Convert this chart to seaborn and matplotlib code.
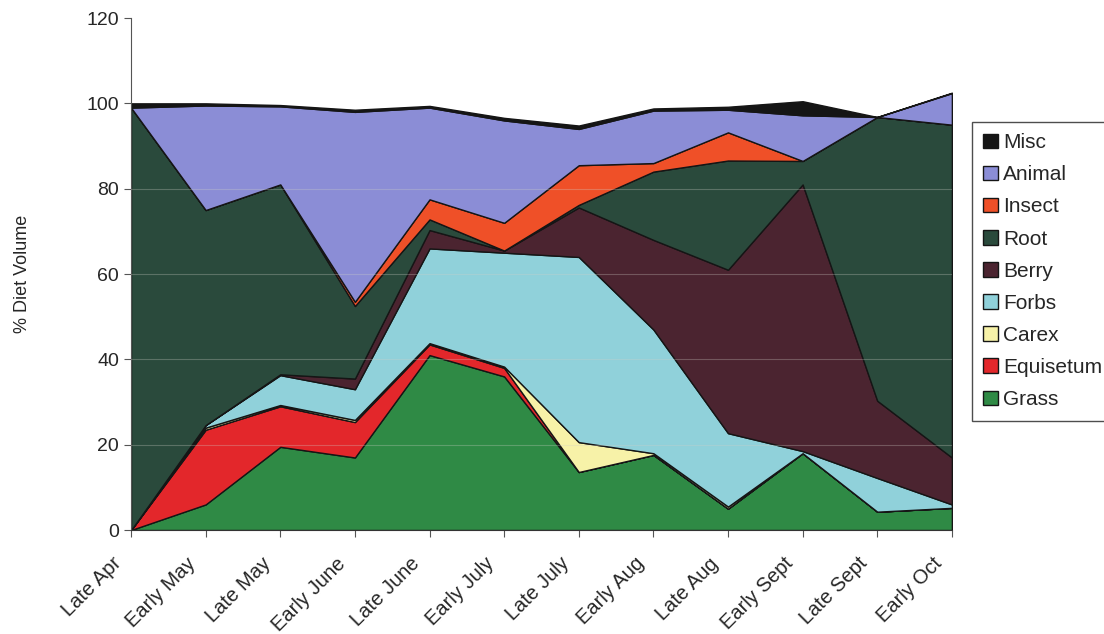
import matplotlib
matplotlib.use("Agg")
import matplotlib.pyplot as plt
import matplotlib.transforms as mtransforms
import seaborn as sns
import numpy as np

# sampling periods (x axis)
periods = ["Late Apr", "Early May", "Late May", "Early June", "Late June", "Early July",
           "Late July", "Early Aug", "Late Aug", "Early Sept", "Late Sept", "Early Oct"]

# % diet volume per food class
grass     = [0.0, 6.0, 19.5, 17.0, 41.0, 36.0, 13.6, 17.6, 5.0, 18.0, 4.3, 5.2]
equisetum = [0.0, 17.5, 9.5, 8.3, 2.5, 2.0, 0.0, 0.0, 0.0, 0.0, 0.0, 0.0]
carex     = [0.0, 0.5, 0.3, 0.5, 0.3, 0.3, 7.0, 0.4, 0.5, 0.0, 0.0, 0.0]
forbs     = [0.0, 0.6, 7.0, 7.2, 22.2, 26.7, 43.4, 29.0, 17.2, 0.5, 7.9, 0.8]
berry     = [0.0, 0.0, 0.2, 2.5, 4.3, 0.5, 11.6, 21.0, 38.3, 62.5, 18.1, 11.0]
root      = [99.0, 50.4, 44.5, 17.0, 2.5, 0.0, 0.6, 16.0, 25.6, 5.5, 66.5, 78.0]
insect    = [0.0, 0.0, 0.0, 1.0, 4.7, 6.5, 9.3, 2.0, 6.6, 0.0, 0.0, 0.0]
animal    = [0.0, 24.5, 18.3, 44.5, 21.5, 24.0, 8.5, 12.3, 5.3, 10.7, 0.0, 7.4]
misc      = [1.0, 0.5, 0.3, 0.5, 0.4, 0.6, 0.8, 0.5, 0.7, 3.3, 0.0, 0.1]

labels = ["Grass", "Equisetum", "Carex", "Forbs", "Berry", "Root", "Insect", "Animal", "Misc"]
colors = ["#2f8a45", "#e3272b", "#f7f2a8", "#90d1da", "#4b2430", "#2a4a3c",
          "#ef5028", "#8b8dd6", "#151515"]

sns.set_style("ticks")
plt.rcParams['font.family'] = ['Liberation Sans', 'DejaVu Sans']

fig = plt.figure(figsize=(11.04, 6.34), dpi=100)
ax = fig.add_axes([0.1187, 0.164, 0.7435, 0.8076])

x = np.arange(len(periods))
polys = ax.stackplot(x, grass, equisetum, carex, forbs, berry, root, insect, animal, misc,
                     labels=labels, colors=colors, edgecolor="#151515", linewidth=1.0)

# faint gridlines showing through like in the scan
for g in [20, 40, 60, 80]:
    ax.axhline(g, color="#d0d0c8", lw=0.8, alpha=0.3, zorder=5)

ax.set_xlim(0, len(periods) - 1)
ax.set_ylim(0, 120)
ax.set_yticks(range(0, 121, 20))
ax.set_xticks(x)
ax.set_xticklabels(periods, rotation=45, ha="right", va="center", rotation_mode="anchor",
                   fontsize=14.5)
ax.tick_params(axis="y", labelsize=14, length=5, width=0.8, color="#555555")
ax.tick_params(axis="x", length=5, width=0.8, color="#555555", pad=17)
# shift the rotated labels a little to the left, as in the original
shift = mtransforms.ScaledTranslation(-9 / 72, 0, fig.dpi_scale_trans)
for lbl in ax.get_xticklabels():
    lbl.set_transform(lbl.get_transform() + shift)
ax.set_ylabel("% Diet Volume", fontsize=13, labelpad=40)

sns.despine(ax=ax, top=True, right=True)
ax.spines["left"].set_color("#555555")
ax.spines["bottom"].set_color("#333333")

# legend: top layer first, like the original
handles, labs = ax.get_legend_handles_labels()
leg = fig.legend(handles[::-1], labs[::-1], loc="upper left", bbox_to_anchor=(0.88, 0.808),
                 fontsize=15, frameon=True, fancybox=False, handlelength=0.7, handleheight=0.7,
                 handletextpad=0.25, labelspacing=0.63, borderpad=0.55, borderaxespad=0)
leg.get_frame().set_edgecolor("#222222")
leg.get_frame().set_linewidth(1.0)

fig.savefig("out.png", dpi=100)
